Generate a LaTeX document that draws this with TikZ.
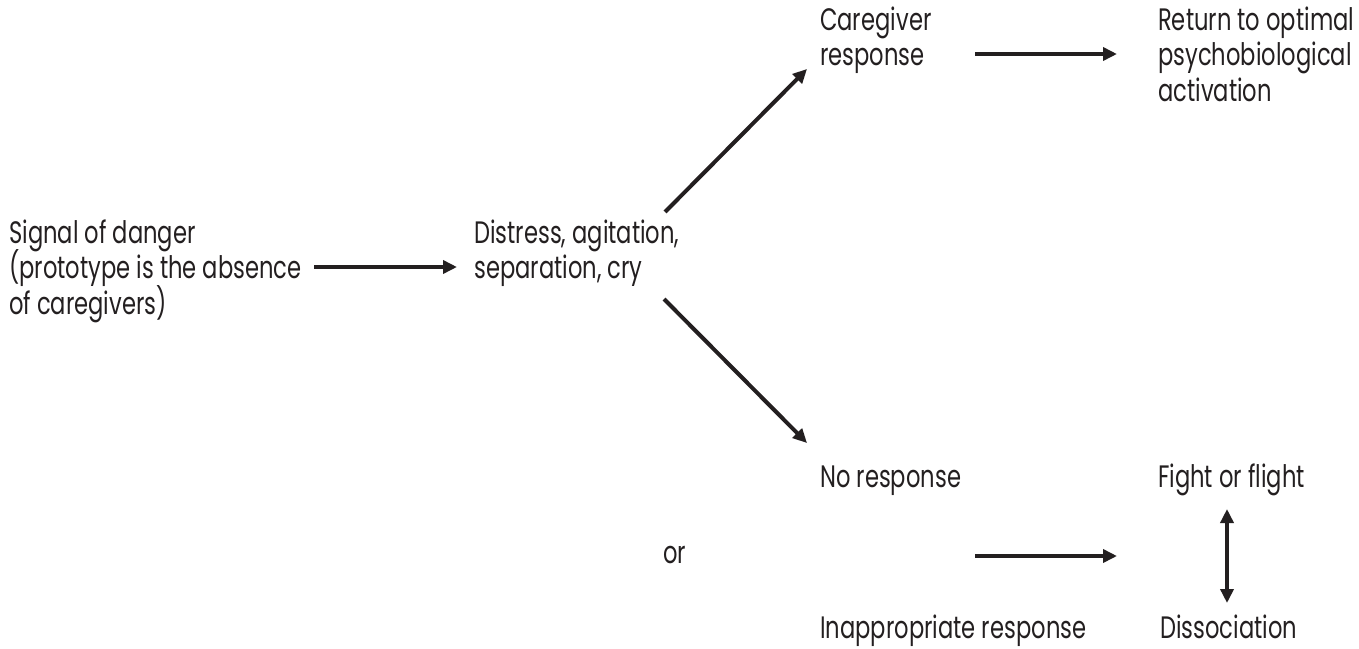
\documentclass[tikz,border=0pt]{standalone}
\usepackage{fontspec}
\setmainfont{Poppins}[FakeStretch=0.73]
\usetikzlibrary{arrows.meta}
\definecolor{ink}{HTML}{231F20}
\newcommand\mylblfont{\fontsize{31}{35.5}\selectfont\lineskiplimit=-50pt\lineskip=0pt\relax}
\begin{document}
\begin{tikzpicture}[x=1pt,y=-1pt,
  lbl/.style={anchor=base west,inner sep=0pt,align=left,text=ink,
    font=\mylblfont},
  arr/.style={draw=ink,line width=4pt,-{Triangle[length=14pt,width=13pt]}},
  dbl/.style={draw=ink,line width=4pt,{Triangle[length=14pt,width=13pt]}-{Triangle[length=14pt,width=13pt]}}]
\useasboundingbox (0,0) rectangle (1359,648);
% base anchor of a multi-line node is the baseline of its last line
\node[lbl] (signal) at (9,314) {Signal of danger\\(prototype is the absence\\of caregivers)};
\node[lbl] (distress) at (474,278.5) {Distress, agitation,\\separation, cry};
\node[lbl] (care) at (820,65.5) {Caregiver\\response};
\node[lbl] (ret) at (1158,101) {Return to optimal\\psychobiological\\activation};
\node[lbl] (nores) at (820,487) {No response};
\node[lbl] (fight) at (1158,487) {Fight or flight};
\node[lbl] (or) at (663,563) {or};
\node[lbl] (inap) at (820,638) {Inappropriate response};
\node[lbl] (diss) at (1160,638) {Dissociation};
\coordinate (a1s) at (314,267); \coordinate (a1e) at (457,267);
\coordinate (a2s) at (665,212); \coordinate (a2e) at (807,69);
\coordinate (a3s) at (664,299); \coordinate (a3e) at (807,443);
\coordinate (a4s) at (975,54); \coordinate (a4e) at (1117,54);
\coordinate (a5s) at (975,556); \coordinate (a5e) at (1117,556);
\coordinate (a6s) at (1227,509); \coordinate (a6e) at (1227,603);
\draw[arr] (a1s) -- (a1e);
\draw[arr] (a2s) -- (a2e);
\draw[arr] (a3s) -- (a3e);
\draw[arr] (a4s) -- (a4e);
\draw[arr] (a5s) -- (a5e);
\draw[dbl] (a6s) -- (a6e);
\end{tikzpicture}
\end{document}
